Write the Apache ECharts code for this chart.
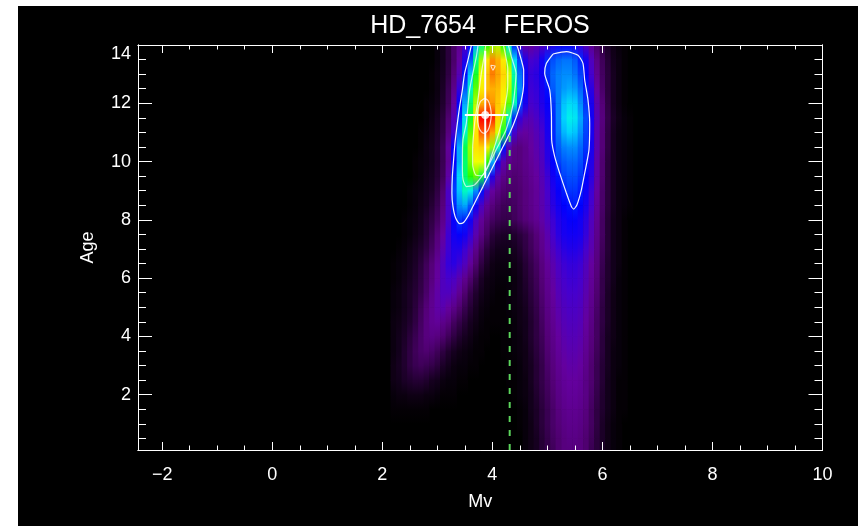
<!DOCTYPE html>
<html>
<head>
<meta charset="utf-8">
<script src="https://cdn.jsdelivr.net/npm/echarts@6/dist/echarts.min.js"></script>
<style>
  html, body { margin: 0; padding: 0; background: #fff; width: 859px; height: 526px; overflow: hidden; }
  #chart { position: absolute; left: 18px; top: 6px; width: 840px; height: 520px; background: #000; }
</style>
</head>
<body>
<div id="chart"></div>
<script>
// ---- data ---------------------------------------------------------------
const titleText = 'HD_7654    FEROS';
const xName = 'Mv';
const yName = 'Age';

const X_MIN = -2.44, X_MAX = 10;
const Y_MIN = 0.1, Y_MAX = 14;
const xMajorTicks = [-2, 0, 2, 4, 6, 8, 10];
const xMinorTicks = [-1.5, -1, -0.5, 0.5, 1, 1.5, 2.5, 3, 3.5, 4.5, 5, 5.5, 6.5, 7, 7.5, 8.5, 9, 9.5];
const yMajorTicks = [2, 4, 6, 8, 10, 12, 14];
const yMinorTicks = [0.5, 1, 1.5, 2.5, 3, 3.5, 4.5, 5, 5.5, 6.5, 7, 7.5, 8.5, 9, 9.5, 10.5, 11, 11.5, 12.5, 13, 13.5];

// density grid: columns in Mv, rows in Age (top row first)
const mvNodes = [2.2,2.3,2.4,2.5,2.6,2.7,2.8,2.9,3.0,3.1,3.2,3.3,3.4,3.5,3.6,3.7,3.8,3.9,4.0,4.1,4.2,4.3,4.4,4.5,4.6,
                 4.7,4.8,4.9,5.0,5.1,5.2,5.3,5.4,5.5,5.6,5.7,5.8,5.9,6.0,6.1,6.2,6.3,6.4,6.5,6.6];
const ageNodes = [14.0,13.5,13.0,12.5,12.0,11.5,11.0,10.5,10.0,9.5,9.0,8.5,8.0,7.5,7.0,
                  6.5,6.0,5.5,5.0,4.5,4.0,3.5,3.0,2.5,2.0,1.5,1.0,0.5,0.0];
const density = [
  [0,0,0,0,0,0,0,0,2,5,10,16,22,29,38,52,62,68,72,73,68,58,42,30,24, 24,26,28,31,34,36,37,37,35,32,27,22,16,11,7,4,2,1,0,0],
  [0,0,0,0,0,0,0,0,2,5,10,16,24,34,46,62,72,79,86,83,78,70,56,44,34, 30,31,36,42,45,47,48,48,46,42,36,28,20,14,9,5,3,1,0,0],
  [0,0,0,0,0,0,0,1,3,6,11,18,27,40,54,66,76,82,87,84,80,75,61,48,37, 32,33,37,43,47,49,50,50,48,44,39,30,22,15,10,6,3,1,0,0],
  [0,0,0,0,0,0,0,1,3,7,13,21,32,46,60,70,78,82,83,82,78,73,63,50,38, 31,32,35,40,46,49,51,52,51,47,41,33,24,16,10,6,3,1,0,0],
  [0,0,0,0,0,0,1,2,4,8,14,24,38,52,63,73,83,88,85,81,77,70,60,45,35, 30,31,34,38,43,49,54,56,55,50,43,35,26,18,11,6,3,1,0,0],
  [0,0,0,0,0,0,1,3,6,10,17,27,42,56,66,78,94,98,92,80,71,60,42,32,28, 27,29,32,36,42,49,55,58,57,52,45,36,27,19,12,7,4,2,1,0],
  [0,0,0,0,0,1,2,4,7,11,19,30,46,60,70,79,89,90,84,75,65,46,30,25,24, 25,27,30,35,42,48,53,55,54,50,44,35,26,18,11,6,3,2,1,0],
  [0,0,0,0,0,1,3,5,8,13,23,38,52,64,72,79,80,78,72,60,40,26,20,19,21, 24,26,29,34,41,46,49,50,50,47,43,35,26,18,11,6,3,2,1,0],
  [0,0,0,0,1,2,3,5,8,13,22,38,52,63,71,76,76,68,52,35,26,21,19,19,21, 23,25,28,33,39,44,46,47,47,45,41,34,25,17,10,6,3,2,1,0],
  [0,0,0,0,1,2,4,6,9,14,25,42,56,63,68,70,65,48,34,26,21,18,17,18,20, 22,24,27,31,36,40,44,45,45,43,39,33,25,17,10,6,3,2,1,0],
  [0,0,0,1,2,3,5,7,11,17,29,44,54,60,58,50,40,30,24,20,17,16,16,17,19, 21,23,26,30,34,38,41,43,43,41,37,31,24,16,10,6,3,2,1,0],
  [0,0,0,1,2,4,6,9,13,19,29,42,50,52,46,37,29,23,19,16,14,14,15,17,19, 21,23,26,29,33,36,39,40,41,39,35,30,23,16,10,6,3,2,1,0],
  [0,0,1,2,3,5,8,11,15,21,29,38,43,41,36,29,23,18,15,13,12,12,14,16,18, 20,22,25,28,31,34,36,38,38,36,33,28,22,15,9,5,3,1,0,0],
  [0,0,1,2,4,6,9,13,18,24,31,36,38,36,32,26,20,15,10,8,7,7,8,10,12, 15,18,22,26,30,33,35,36,36,35,32,27,21,15,9,5,3,1,0,0],
  [0,1,2,4,6,8,11,15,20,26,31,34,34,31,27,21,15,10,7,5,5,5,6,8,11, 14,17,21,25,28,31,33,34,34,33,30,26,20,14,9,5,3,1,0,0],
  [1,2,3,5,7,10,14,18,23,28,32,33,31,28,23,17,11,7,4,3,3,3,4,6,9, 12,15,19,23,26,29,31,32,32,31,28,24,19,13,8,5,3,1,0,0],
  [1,2,4,6,8,11,15,19,24,28,30,29,26,22,17,12,7,4,3,2,2,2,3,5,8, 11,14,18,22,25,28,30,31,31,30,27,23,18,12,8,5,2,1,0,0],
  [2,3,5,7,9,12,16,21,25,28,28,26,22,17,12,8,5,3,2,1,1,2,3,5,7, 10,13,17,21,24,27,29,30,30,29,26,22,17,12,7,4,2,1,0,0],
  [2,3,5,7,10,14,18,22,25,26,24,21,17,13,9,6,3,2,1,1,1,2,3,4,6, 9,12,16,20,23,26,28,29,29,28,25,21,16,11,7,4,2,1,0,0],
  [3,4,6,8,11,15,19,22,23,21,19,15,12,9,6,4,2,1,1,1,1,1,2,4,5, 8,11,15,19,22,25,27,28,28,27,24,20,15,11,7,4,2,1,0,0],
  [3,5,7,10,13,16,19,20,19,17,14,11,8,6,4,2,1,1,0,0,1,1,2,3,5, 8,11,14,18,21,24,26,27,27,26,23,19,15,10,6,4,2,1,0,0],
  [3,5,8,11,14,16,17,16,14,11,8,6,4,3,2,1,1,0,0,0,1,1,2,3,4, 7,10,13,17,20,23,25,26,26,25,22,18,14,10,6,3,2,1,0,0],
  [4,6,8,11,13,14,13,12,10,7,5,3,2,2,1,1,0,0,0,0,0,1,1,2,4, 6,9,12,16,19,22,24,25,25,24,21,17,13,9,6,3,2,1,0,0],
  [4,5,7,8,9,9,8,6,5,3,2,2,1,1,0,0,0,0,0,0,0,1,1,2,3, 6,9,12,15,18,21,23,24,24,23,20,17,13,9,5,3,1,1,0,0],
  [2,3,3,4,4,4,3,3,2,1,1,1,0,0,0,0,0,0,0,0,0,0,1,2,3, 5,8,11,14,17,20,22,23,23,22,20,16,12,8,5,3,1,1,0,0],
  [1,1,1,1,1,1,1,0,0,0,0,0,0,0,0,0,0,0,0,0,0,0,0,1,2, 5,7,10,13,16,19,21,22,22,21,19,15,11,8,5,3,1,1,0,0],
  [0,0,0,0,0,0,0,0,0,0,0,0,0,0,0,0,0,0,0,0,0,0,0,1,2, 4,7,10,13,16,18,20,21,21,20,18,15,11,7,4,2,1,0,0,0],
  [0,0,0,0,0,0,0,0,0,0,0,0,0,0,0,0,0,0,0,0,0,0,0,0,2, 4,6,9,12,15,17,19,20,20,19,17,14,10,7,4,2,1,0,0,0],
  [0,0,0,0,0,0,0,0,0,0,0,0,0,0,0,0,0,0,0,0,0,0,0,0,2, 4,6,9,12,14,17,19,19,19,19,17,13,10,7,4,2,1,0,0,0]
];

// contour lines of the density (Mv, Age)
const contourOuterLeft = [[3.62,14.0],[3.556,13.48],[3.496,13.03],[3.455,12.46],[3.405,11.88],[3.356,11.20],[3.320,10.63],
  [3.296,10.07],[3.273,9.49],[3.265,8.92],[3.284,8.46],[3.333,8.06],[3.405,7.87],[3.478,7.91],[3.556,8.12],[3.678,8.58],
  [3.829,9.14],[4.011,9.83],[4.164,10.40],[4.315,10.97],[4.436,11.54],[4.527,12.11],[4.569,12.68],[4.569,13.14],
  [4.527,13.48],[4.465,13.89],[4.44,14.0]];
const contourOuterRight = [[5.102,13.69],[5.345,13.77],[5.556,13.65],[5.647,13.37],[5.678,12.80],[5.738,12.11],[5.769,11.32],
  [5.756,10.40],[5.678,9.60],[5.618,9.03],[5.538,8.52],[5.478,8.37],[5.436,8.46],[5.345,8.92],[5.224,9.60],[5.133,10.17],
  [5.078,10.74],[5.073,11.66],[5.042,12.46],[4.951,13.03],[4.982,13.37],[5.102,13.69]];
const contourGreen = [[3.74,14.0],[3.709,13.60],[3.587,12.46],[3.527,11.32],[3.465,10.74],[3.455,9.83],[3.469,9.37],
  [3.527,9.14],[3.678,9.20],[3.891,9.72],[4.08,10.45],[4.25,11.09],[4.38,12.0],[4.43,13.03],[4.345,13.60],[4.29,14.0]];
const contourYellow = [[3.88,14.0],[3.86,13.71],[3.80,13.03],[3.738,12.11],[3.678,11.32],[3.642,10.40],[3.642,9.89],
  [3.696,9.54],[3.805,9.51],[3.92,9.85],[4.02,10.4],[4.12,11.0],[4.22,11.8],[4.28,12.6],[4.28,13.2],[4.24,13.65],[4.20,14.0]];
const contourRedCore = [[3.86,12.17],[3.92,12.10],[3.96,11.90],[3.98,11.60],[3.96,11.30],[3.92,11.07],[3.86,10.97],
  [3.80,11.02],[3.75,11.20],[3.73,11.50],[3.74,11.80],[3.78,12.05],[3.86,12.17]];
const contourRedTop = [[3.97,13.30],[4.05,13.28],[4.01,13.14],[3.97,13.30]];

// best estimate with its ranges
const bestPoint = [3.87, 11.6];
const mvRange = [3.50, 4.29];
const ageRange = [9.43, 13.8];
// dashed reference magnitude
const refMv = 4.315;
const refAgeTop = 10.9;

// ---- colour table (black -> purple -> blue -> cyan -> green -> yellow -> red) ----
const colorStops = [
  [0, [0,0,0]], [6, [22,0,32]], [12, [52,0,74]], [18, [84,0,120]], [24, [100,0,158]],
  [30, [70,0,205]], [35, [24,0,240]], [39, [0,0,255]], [44, [0,64,255]], [50, [0,140,255]],
  [55, [0,210,255]], [58, [0,240,235]], [61, [0,255,170]], [64, [0,255,80]], [68, [40,255,0]],
  [72, [150,255,0]], [76, [240,255,0]], [79, [255,225,0]], [83, [255,175,0]], [87, [255,125,0]],
  [91, [255,55,0]], [94, [255,0,0]], [100, [235,0,0]]
];
function colorAt(v) {
  if (!(v > colorStops[0][0])) return 'rgb(0,0,0)';
  for (let k = 1; k < colorStops.length; k++) {
    const [v1, c1] = colorStops[k];
    if (v <= v1) {
      const [v0, c0] = colorStops[k - 1];
      const t = (v - v0) / (v1 - v0);
      const c = c0.map((a, i) => Math.round(a + (c1[i] - a) * t));
      return 'rgb(' + c.join(',') + ')';
    }
  }
  const last = colorStops[colorStops.length - 1][1];
  return 'rgb(' + last.join(',') + ')';
}

// cells between neighbouring age rows, shaded top-to-bottom
const HALF_STEP = (mvNodes[1] - mvNodes[0]) / 2;
const cells = [];
for (let i = 0; i < ageNodes.length - 1; i++) {
  for (let j = 0; j < mvNodes.length; j++) {
    const vTop = density[i][j] || 0, vBot = density[i + 1][j] || 0;
    if (vTop === 0 && vBot === 0) continue;
    cells.push([mvNodes[j], ageNodes[i + 1], ageNodes[i], vBot, vTop]);
  }
}

// ---- chart ----------------------------------------------------------------
const WHITE = '#ffffff';
const FONT = 'Liberation Sans';
const AXIS_Z = 10;
const minusFmt = v => (v < 0 ? '\u2212' + Math.abs(v) : String(v));

function xAxisDef(position, ticks, len, labels) {
  const axis = {
    type: 'value', min: X_MIN, max: X_MAX, position: position, z: AXIS_Z,
    axisLine: { show: true, onZero: false, lineStyle: { color: WHITE, width: 1 } },
    axisTick: { show: true, inside: true, length: len, customValues: ticks, lineStyle: { color: WHITE, width: 1 } },
    axisLabel: labels ? { show: true, customValues: ticks, formatter: minusFmt, color: WHITE,
                          fontSize: 18, fontFamily: FONT, margin: 16 } : { show: false },
    splitLine: { show: false }
  };
  if (labels) {
    axis.name = xName;
    axis.nameLocation = 'middle';
    axis.nameGap = 43;
    axis.nameTextStyle = { color: WHITE, fontSize: 18, fontFamily: FONT };
  }
  return axis;
}
function yAxisDef(position, ticks, len, labels) {
  const axis = {
    type: 'value', min: Y_MIN, max: Y_MAX, position: position, z: AXIS_Z,
    axisLine: { show: true, onZero: false, lineStyle: { color: WHITE, width: 1 } },
    axisTick: { show: true, inside: true, length: len, customValues: ticks, lineStyle: { color: WHITE, width: 1 } },
    axisLabel: labels ? { show: true, customValues: ticks, color: WHITE, fontSize: 18, fontFamily: FONT,
                          margin: 7, verticalAlignMaxLabel: 'top' } : { show: false },
    splitLine: { show: false }
  };
  if (labels) {
    axis.name = yName;
    axis.nameLocation = 'middle';
    axis.nameGap = 41;
    axis.nameTextStyle = { color: WHITE, fontSize: 18, fontFamily: FONT };
  }
  return axis;
}

function contourSeries(points, color) {
  return {
    type: 'line', data: points, xAxisIndex: 0, yAxisIndex: 0,
    symbol: 'none', showSymbol: false, smooth: 0.2, silent: true, clip: true, z: 4,
    lineStyle: { color: color, width: 1.2 }
  };
}

const chart = echarts.init(document.getElementById('chart'), null, { renderer: 'canvas' });
chart.setOption({
  backgroundColor: '#000000',
  animation: false,
  textStyle: { fontFamily: FONT },
  grid: { left: 120, right: 35.5, top: 39, bottom: 76, containLabel: false },
  graphic: [{
    type: 'text', x: 462, y: 8,
    style: { text: titleText, fill: WHITE, font: '25px "Liberation Sans"', textAlign: 'center' }
  }],
  xAxis: [
    xAxisDef('bottom', xMajorTicks, 8, true),
    xAxisDef('bottom', xMinorTicks, 4.5, false),
    xAxisDef('top', xMajorTicks, 8, false),
    xAxisDef('top', xMinorTicks, 4.5, false)
  ],
  yAxis: [
    yAxisDef('left', yMajorTicks, 14, true),
    yAxisDef('left', yMinorTicks, 8, false),
    yAxisDef('right', yMajorTicks, 14, false),
    yAxisDef('right', yMinorTicks, 8, false)
  ],
  series: [
    {
      type: 'custom', coordinateSystem: 'cartesian2d', xAxisIndex: 0, yAxisIndex: 0,
      clip: true, silent: true, z: 1,
      encode: { x: 0, y: [1, 2] },
      data: cells,
      renderItem: function (params, api) {
        const x = api.value(0), yBot = api.value(1), yTop = api.value(2);
        const tl = api.coord([x - HALF_STEP, Math.min(yTop, Y_MAX)]);
        const br = api.coord([x + HALF_STEP, Math.max(yBot, Y_MIN)]);
        return {
          type: 'rect',
          shape: { x: tl[0], y: tl[1], width: br[0] - tl[0] + 0.5, height: br[1] - tl[1] + 0.6 },
          style: {
            fill: new echarts.graphic.LinearGradient(0, 0, 0, 1, [
              { offset: 0, color: colorAt(api.value(4)) },
              { offset: 1, color: colorAt(api.value(3)) }
            ])
          }
        };
      }
    },
    contourSeries(contourOuterLeft, 'rgba(255,255,255,0.95)'),
    contourSeries(contourOuterRight, 'rgba(255,255,255,0.95)'),
    contourSeries(contourGreen, 'rgba(255,255,255,0.7)'),
    contourSeries(contourYellow, 'rgba(255,255,255,0.7)'),
    contourSeries(contourRedCore, 'rgba(255,255,255,0.75)'),
    contourSeries(contourRedTop, 'rgba(255,255,255,0.75)'),
    {
      type: 'line', xAxisIndex: 0, yAxisIndex: 0, symbol: 'none', silent: true, z: 5,
      data: [[refMv, Y_MIN], [refMv, refAgeTop]],
      lineStyle: { color: '#5cd65c', width: 2, type: [6, 8] }
    },
    {
      type: 'line', xAxisIndex: 0, yAxisIndex: 0, symbol: 'none', silent: true, z: 6,
      data: [[mvRange[0], bestPoint[1]], [mvRange[1], bestPoint[1]]],
      lineStyle: { color: WHITE, width: 2 }
    },
    {
      type: 'line', xAxisIndex: 0, yAxisIndex: 0, symbol: 'none', silent: true, z: 6,
      data: [[bestPoint[0], ageRange[0]], [bestPoint[0], ageRange[1]]],
      lineStyle: { color: WHITE, width: 2 }
    },
    {
      type: 'scatter', xAxisIndex: 0, yAxisIndex: 0, silent: true, z: 7,
      data: [bestPoint], symbol: 'circle', symbolSize: 8,
      itemStyle: { color: WHITE }
    }
  ]
});
</script>
</body>
</html>
